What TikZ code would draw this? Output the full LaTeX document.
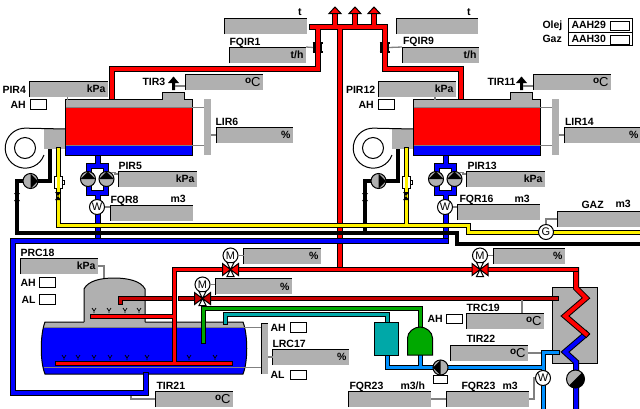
\documentclass[tikz,border=0pt]{standalone}
\usepackage{fontspec}
\setmainfont{Liberation Sans}
\definecolor{panelgray}{HTML}{B0B0B0}
\definecolor{leadgray}{HTML}{808080}
\definecolor{darkred}{HTML}{C80000}
\definecolor{tankgreen}{HTML}{00A800}
\definecolor{tankteal}{HTML}{00A8A8}
\definecolor{lightpipe}{HTML}{0090FF}
\newcommand{\degC}{\raisebox{3pt}{\fontsize{10}{10}\selectfont o}{\fontsize{13}{13}\selectfont\mdseries C}}
\tikzset{
	panel/.style = {
		fill = panelgray,
		anchor = north west,
		minimum height = 15pt,
		inner ysep = 0pt,
		inner xsep = 2pt,
		align = right,
		font = \fontsize{10.5}{12}\selectfont\bfseries
	},
	tag/.style = {
		anchor = base west,
		inner sep = 0pt,
		font = \fontsize{10.5}{12}\selectfont\bfseries
	},
	alarmbox/.style = {
		draw,
		fill = white,
		anchor = north west,
		minimum width = 16pt,
		minimum height = 9.5pt,
		inner sep = 0pt
	},
	leader/.style = {
		draw = leadgray,
		line width = 1.3pt
	},
	pipe/.style = {
		draw = #1,
		line width = 4pt,
		line cap = rect,
		preaction = {draw = black, line width = 6pt, line cap = rect}
	},
	thinpipe/.style = {
		draw = #1,
		line width = 3pt,
		line cap = rect,
		preaction = {draw = black, line width = 5pt, line cap = rect}
	},
	meter/.style = {
		circle,
		draw,
		fill = white,
		minimum size = 15pt,
		inner sep = 0pt,
		font = \fontsize{11}{12}\selectfont
	},
	pumpsym/.pic = {
		\draw[fill = panelgray] (0, 0) circle[radius = 7.5];
		\fill[rotate = #1] (-7.5, 0) -- (0, -7.5) -- (7.5, 0) -- cycle;
		\coordinate (-lead) at (4, -6.4);
	},
	halfpump/.pic = {
		\draw[fill = panelgray] (0, 0) circle[radius = 9];
		\fill[rotate = #1] (-9, 0) arc[start angle = 180, end angle = 0, radius = 9] -- cycle;
	},
	valvesym/.pic = {
		\draw[fill = white] (-3.5, -7) -- (3.5, -7) -- (-3.5, 7) -- (3.5, 7) -- cycle;
		\draw[fill = #1] (-8, -6) -- (0, 0) -- (-8, 6) -- cycle;
		\draw[fill = #1] (8, -6) -- (0, 0) -- (8, 6) -- cycle;
	},
	knot/.pic = {
		\fill (-3, -4) -- (3, -4) -- (-3, 4) -- (3, 4) -- cycle;
	},
	flowsym/.pic = {
		\draw[line width = 1.6pt] (-3.5, -4.5) -- (-3.5, 4.5) (3.5, -4.5) -- (3.5, 4.5);
		\draw[line width = 1.6pt] (-5, -4.5) -- (-2.5, -4.5) (-5, 4.5) -- (-2.5, 4.5) (2.5, -4.5) -- (5, -4.5) (2.5, 4.5) -- (5, 4.5);
	}
}

\begin{document}
\begin{tikzpicture}[x = 1pt, y = -1pt, line width = 1pt]
	\useasboundingbox (0, 0) rectangle (640, 408);

	% main steam lines
	\draw[pipe = red] (335, 26.5) -- (335, 14) (355, 26.5) -- (355, 14) (374, 26.5) -- (374, 14)
		(312, 26.5) -- (384.5, 26.5) -- (384.5, 68.5) -- (460.5, 68.5) -- (460.5, 100)
		(317.5, 26.5) -- (317.5, 68.5) -- (112, 68.5) -- (112, 100)
		(340, 26.5) -- (340, 269);
	\foreach \x in {335, 355, 374}{
		\draw[fill = red] (\x - 6, 13.5) -- (\x, 7) -- (\x + 6, 13.5) -- cycle;
	}

	% boilers, pipes first
	\foreach \dx in {0, 348}{
		\begin{scope}[xshift = \dx pt]
			\draw[pipe = blue] (97.5, 155) -- (97.5, 165) (88.5, 165.5) rectangle (106, 192.5) (97.5, 192.5) -- (97.5, 200);
			\draw[pipe = blue] (97.5, 214) -- (97.5, 238);
			\fill[panelgray] (44, 129) rectangle (65, 149);
			\draw (44, 155) arc[start angle = 20, end angle = 270, radius = 20] -- (65.5, 129);
			\draw (25, 148) circle[radius = 10.5];
			\draw[fill = panelgray] (65.5, 108) -- (65.5, 99) -- (162, 99) -- (162, 92) -- (184.5, 92) -- (184.5, 99) -- (192.5, 99) -- (192.5, 108);
			\fill[red] (65.5, 108) rectangle (192.5, 145);
			\fill[blue] (65.5, 146) rectangle (192.5, 155);
			\draw (65.5, 99) -- (65.5, 155) -- (192.5, 155) -- (192.5, 99);
			\draw[leader] (65.5, 107.5) -- (204, 107.5) (65.5, 145.5) -- (204, 145.5);
			\fill[panelgray] (204, 99) rectangle (210.5, 155);
		\end{scope}
	}

	% tank
	\def\tankpath{(45, 322) -- (243, 322) .. controls (248, 335) and (248, 362) .. (243, 374) -- (45, 374) .. controls (40, 362) and (40, 335) .. (45, 322) -- cycle}
	\fill[blue] \tankpath;
	\begin{scope}
		\clip \tankpath;
		\fill[panelgray] (40, 320) rectangle (250, 327.5);
	\end{scope}
	\draw \tankpath;
	\fill[panelgray] (84, 323) -- (84, 289) .. controls (88, 281) and (100, 278) .. (114, 278) .. controls (128, 278) and (141, 281) .. (145, 289) -- (145, 323) -- cycle;
	\draw (84, 322) -- (84, 289) .. controls (88, 281) and (100, 278) .. (114, 278) .. controls (128, 278) and (141, 281) .. (145, 289) -- (145, 322);
	\draw[leader] (44, 327.5) -- (261, 327.5) (44, 367.5) -- (261, 367.5);
	\fill[panelgray] (261, 323) rectangle (267.5, 374);
	\draw (261, 374) -- (261, 323) -- (267.5, 323);

	% exchanger
	\draw[fill = panelgray] (552, 287.5) rectangle (597.5, 363);

	% water lines
	\draw[pipe = blue] (445.5, 241) -- (13, 241) -- (13, 393) -- (145.5, 393) -- (145.5, 375);
	\draw[pipe = blue] (586, 334) -- (565, 352) -- (576, 362) -- (576, 408);
	\draw[pipe = red] (576, 270) -- (576, 288) -- (586, 298) -- (565, 316) -- (586, 334);
	\draw[thinpipe = red] (174, 363) -- (174, 269.5) -- (576, 269.5)
		(57, 363) -- (230, 363)
		(92, 316.5) -- (174, 316.5);
	\draw[thinpipe = darkred] (120, 302) -- (120, 298.5) -- (170, 298.5) (180, 298.5) -- (556, 298.5);
	\draw[thinpipe = tankgreen] (203, 341) -- (203, 308) -- (420.5, 308) -- (420.5, 327);
	\draw[thinpipe = tankteal] (225, 322) -- (225, 314) -- (387, 314) -- (387, 321);
	\draw[thinpipe = lightpipe] (557, 352) -- (543, 352) -- (543, 408)
		(387, 356) -- (387, 367.5) -- (543, 367.5)
		(420.5, 356) -- (420.5, 367.5);
	\foreach \x/\y in {64/358, 78/358, 94/358, 110/358, 127/358, 147/358, 189/358, 215/358, 94/311, 109/311, 125/311, 139/311}{
		\draw[line width = .7pt] (\x - 2, \y - 3) -- (\x, \y) -- (\x + 2, \y - 3) (\x, \y) -- (\x, \y + 2);
	}

	% feed tanks
	\draw[fill = tankteal] (374.5, 322) rectangle (398.5, 355);
	\draw[fill = tankgreen] (407.5, 355) -- (407.5, 338) .. controls (407.5, 332) and (414, 327) .. (420, 327) .. controls (426, 327) and (432.5, 332) .. (432.5, 338) -- (432.5, 355) -- cycle;

	% fuel lines
	\draw[line width = 4pt] (50, 149) -- (50, 181) -- (17, 181) -- (17, 233) -- (457, 233) -- (457, 244) -- (640, 244)
		(398, 149) -- (398, 181) -- (365, 181) -- (365, 233);
	\draw[thinpipe = yellow] (58, 149) -- (58, 225.5) -- (468, 225.5) -- (468, 232) -- (640, 232)
		(406, 149) -- (406, 225.5);

	% pumps and meters on the boilers
	\foreach \dx in {0, 348}{
		\begin{scope}[xshift = \dx pt]
			\pic (pumpA\dx) at (88, 179) {pumpsym = 0};
			\pic (pumpB\dx) at (106.5, 179) {pumpsym = 0};
			\node[meter] (meter\dx) at (97, 207) {W};
			\pic (oilpump\dx) at (30.5, 181) {pumpsym = -90};
			\draw[fill = white] (54.5, 176) rectangle (62, 188.5) (62, 180) rectangle (64, 184);
			\draw[yellow, line width = 3pt] (58, 175) -- (58, 190);
			\pic at (17, 197) {knot};
			\pic at (58, 196) {knot};
			\draw[leader] (pumpB\dx-lead) -| (115, 174) -- (118, 174);
		\end{scope}
	}

	% displays
	\foreach \tagname/\x/\y/\w/\unit in {
		totalA/224.5/18/81.5/{}, totalB/396/18/81/{}, FQIRa/229/47/76/{t/h}, FQIRb/402/47/76/{t/h},
		PIRa/29.5/81/77.5/kPa, PIRb/378/81/77/kPa, TIRa/185/74/77/\degC, TIRb/533/74/77/\degC,
		LIRa/216/127/76/\%, LIRb/564/127/76/\%, PIRc/118.5/171/77.5/kPa, PIRd/466.5/171/77.5/kPa,
		FQRa/110/205/82/{}, FQRb/457/204/82/{}, GAZ/557/211/83/{}, PRC/20/258/77/kPa,
		valveA/243.5/248/76.5/\%, valveB/215/278.5/76/\%, valveC/493/248/71/\%,
		TRC/466/313/77/\degC, LRC/272.5/349/75.5/\%, TIRc/155/391/77/\degC, TIRd/450/345/77/\degC,
		FQRc/348/391/82/{}, FQRd/446/391/82/{}}{
		\node[panel, minimum width = \w pt, text width = \w pt - 4pt] (\tagname) at (\x, \y) {\unit};
		\draw (\tagname.south west) -- (\tagname.north west) -- (\tagname.north east);
	}

	% texts
	\foreach \tagtext/\x/\y [count = \n] in {
		t/297.5/15.5, t/466.5/15.5, FQIR1/229/45, FQIR9/402.5/44,
		PIR4/2/93, AH/10/108, TIR3/142/85, LIR6/215/125,
		PIR12/345.5/93, AH/358/108, TIR11/487/85, LIR14/564.5/125,
		Olej/542/28, Gaz/542/42, AAH29/571/28, AAH30/571/42,
		PIR5/118/169, FQR8/110/203, m3/170/202, PIR13/467/169, FQR16/459/202, m3/514/202,
		GAZ/581/208, m3/615/207, PRC18/20/256, AH/20/286, AL/21/303,
		AH/270/331, LRC17/272/347, AL/270/378, TIR21/156/389,
		AH/427/322, TRC19/466/311, TIR22/466/342,
		FQR23/349/389, {m3/h}/400/389, FQR23/461/389, m3/502/389}{
		\node[tag] (tag\n) at (\x, \y) {\tagtext};
	}

	% alarm boxes
	\foreach \x/\y [count = \n] in {29.5/99, 377.5/99, 39/277, 39/294, 289.5/322, 289.5/369.5, 446/313.5}{
		\node[alarmbox] (alarm\n) at (\x, \y) {};
	}
	\node[draw, anchor = north west, minimum width = 64pt, minimum height = 13.5pt, inner sep = 0pt] (olejframe) at (568, 18) {};
	\node[draw, anchor = north west, minimum width = 64pt, minimum height = 13.5pt, inner sep = 0pt] (gazframe) at (568, 31.5) {};
	\node[alarmbox, minimum width = 19pt, minimum height = 8.5pt] (olejbox) at (609.5, 21) {};
	\node[alarmbox, minimum width = 19pt, minimum height = 8.5pt] (gazbox) at (609.5, 35) {};

	% valves with drives
	\node[meter] (driveA) at (230.5, 255.5) {M};
	\node[meter] (driveB) at (202.5, 284.5) {M};
	\node[meter] (driveC) at (480, 255.5) {M};
	\pic (valveSymA) at (230.5, 269.5) {valvesym = red};
	\pic (valveSymB) at (202.5, 298.5) {valvesym = darkred};
	\pic (valveSymC) at (480, 269.5) {valvesym = red};
	\draw[leader] (driveA.east) -- (driveA.east -| valveA.west);
	\draw[leader] (driveB.east) -- (driveB.east -| valveB.west);
	\draw[leader] (driveC.east) -- (driveC.east -| valveC.west);

	% flow stations and leaders
	\pic at (317.5, 47.5) {flowsym};
	\pic at (384.5, 47.5) {flowsym};
	\coordinate (flowA) at (313, 47.5);
	\coordinate (flowB) at (389, 47.5);
	\coordinate (tempA) at (175, 86);
	\coordinate (tempB) at (523, 86);
	\foreach \x in {173.5, 521.5}{
		\fill (\x - 5.5, 83) -- (\x, 76.5) -- (\x + 5.5, 83) -- (\x + 1.5, 83) -- (\x + 1.5, 90) -- (\x - 1.5, 90) -- (\x - 1.5, 83) -- cycle;
	}
	\draw[leader] (FQIRa.north east) -- (flowA);
	\draw[leader] (FQIRb.north west) -- (flowB);
	\draw[leader] (tempA) -- (tempA -| TIRa.west);
	\draw[leader] (tempB) -- (tempB -| TIRb.west);
	\draw[leader] (PIRa.south) ++(-1.5, 0) -- ++(0, 3);
	\draw[leader] (PIRb.south) ++(18, 0) -- ++(0, 3);
	\draw[leader] (LIRa.west) -- ++(-5.5, 0);
	\draw[leader] (LIRb.west) -- ++(-5, 0);
	\draw[leader] (LRC.west) -- ++(-5, 0);
	\draw[leader] (meter0.east) -- (meter0.east -| FQRa.west);
	\draw[leader] (meter348.east) -- (meter348.east -| FQRb.west);

	\coordinate (dometop) at (104, 278);
	\draw[leader] (PRC.east) -| (dometop);
	\coordinate (tanktemp) at (131, 396);
	\draw[leader] (TIRc.west) -| (tanktemp);
	\coordinate (tempE) at (522, 300);
	\draw[leader] (TRC.north -| tempE) -- (tempE);
	\coordinate (tempF) at (541, 353);
	\draw[leader] (TIRd.east) |- (tempF);

	% gas meter
	\node[meter] (gasmeter) at (546, 232) {G};
	\draw[leader] (gasmeter.north) |- (GAZ.west);

	% feed water meter and pumps
	\node[meter] (feedmeter) at (543, 378) {W};
	\pic (feedpump) at (440.5, 367.5) {pumpsym = 90};
	\node[draw, fill = white, minimum width = 14.5pt, minimum height = 7.5pt, inner sep = 0pt, anchor = north] (feedbox) at (440.5, 375) {};
	\pic (waterpump) at (575.5, 379) {halfpump = 45};
	\draw[leader] (FQRc.east) -- (FQRd.west);
	\draw[leader] (FQRd.east) -- ++(5, 0) |- (feedmeter.west);
\end{tikzpicture}
\end{document}
